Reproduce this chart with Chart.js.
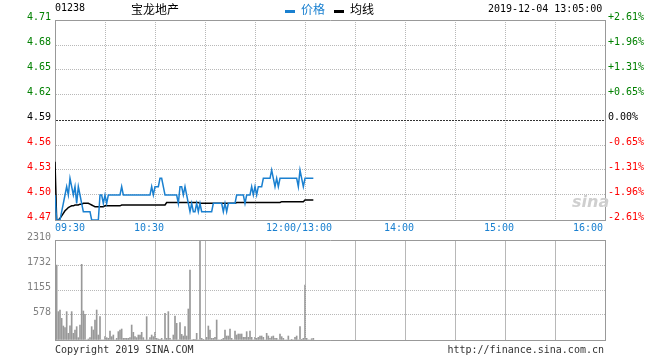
<!DOCTYPE html>
<html>
<head>
<meta charset="utf-8">
<script src="https://cdn.jsdelivr.net/npm/chart.js@4.4.1/dist/chart.umd.min.js"></script>
<style>
  body { margin: 0; background: #fff; }
  #wrap { position: relative; width: 660px; height: 360px; overflow: hidden; font-family: 'DejaVu Sans Mono', monospace; }
  canvas { position: absolute; left: 0; }
  .t { position: absolute; white-space: nowrap; line-height: 1; }
  .cjk { font-family: 'Noto Sans CJK SC', sans-serif; font-size: 12px; }
  .key { position: absolute; height: 3px; width: 10px; }
</style>
</head>
<body>
<div id="wrap">
  <canvas id="vol" width="660" height="130" style="top:230px"></canvas>
  <canvas id="price" width="660" height="235" style="top:0"></canvas>

  <div class="t" style="left:55px;top:3px;font-size:10px;color:#000">01238</div>
  <div class="t cjk" style="left:131px;top:3px;color:#000">宝龙地产</div>
  <div class="key" style="left:285px;top:10px;background:#1a80d0"></div>
  <div class="t cjk" style="left:301px;top:3px;color:#1a80d0">价格</div>
  <div class="key" style="left:334px;top:10px;background:#000"></div>
  <div class="t cjk" style="left:350px;top:3px;color:#000">均线</div>
  <div class="t" style="left:488px;top:4px;font-size:10px;color:#000">2019-12-04 13:05:00</div>

  <div class="t" style="left:572px;top:194px;font-size:16px;font-weight:bold;font-style:italic;color:#cfcfcf;font-family:'DejaVu Sans',sans-serif">sina</div>

  <div class="t" style="left:55px;top:345px;font-size:10px;color:#333">Copyright 2019 SINA.COM</div>
  <div class="t" style="right:56px;top:345px;font-size:10px;color:#333">http://finance.sina.com.cn</div>
</div>

<script>
// minute index from 09:30 (12:00 and 13:00 share index 150)
const price = [
  4.50, 4.47, 4.47, 4.47, 4.48, 4.49, 4.50, 4.51, 4.50, 4.52,
  4.51, 4.50, 4.51, 4.49, 4.51, 4.50, 4.49, 4.48, 4.48, 4.48,
  4.48, 4.48, 4.47, 4.47, 4.47, 4.47, 4.47, 4.50, 4.50, 4.49,
  4.50, 4.49, 4.50, 4.50, 4.50, 4.50, 4.50, 4.50, 4.50, 4.50,
  4.51, 4.50, 4.50, 4.50, 4.50, 4.50, 4.50, 4.50, 4.50, 4.50,
  4.50, 4.50, 4.50, 4.50, 4.50, 4.50, 4.50, 4.50, 4.51, 4.50,
  4.51, 4.51, 4.51, 4.52, 4.52, 4.51, 4.50, 4.50, 4.50, 4.50,
  4.50, 4.50, 4.50, 4.50, 4.49, 4.51, 4.51, 4.50, 4.51, 4.50,
  4.49, 4.48, 4.49, 4.48, 4.48, 4.49, 4.48, 4.49, 4.48, 4.48,
  4.48, 4.48, 4.48, 4.48, 4.48, 4.49, 4.49, 4.49, 4.49, 4.49,
  4.49, 4.48, 4.49, 4.48, 4.49, 4.49, 4.49, 4.49, 4.49, 4.50,
  4.50, 4.50, 4.50, 4.50, 4.49, 4.50, 4.50, 4.50, 4.51, 4.50,
  4.51, 4.50, 4.51, 4.51, 4.51, 4.52, 4.52, 4.52, 4.52, 4.52,
  4.53, 4.52, 4.51, 4.52, 4.51, 4.52, 4.52, 4.52, 4.52, 4.52,
  4.52, 4.52, 4.52, 4.52, 4.52, 4.52, 4.51, 4.53, 4.52, 4.51,
  4.52, 4.52, 4.52, 4.52, 4.52, 4.52
];

const avgPrice = [
  4.540, 4.470, 4.470, 4.472, 4.475, 4.478, 4.481, 4.483, 4.485, 4.486,
  4.487, 4.487, 4.488, 4.488, 4.488, 4.489, 4.489, 4.490, 4.490, 4.490,
  4.490, 4.489, 4.488, 4.487, 4.486, 4.486, 4.486, 4.486, 4.486, 4.486,
  4.487, 4.487, 4.487, 4.487, 4.487, 4.487, 4.487, 4.487, 4.487, 4.487,
  4.488, 4.488, 4.488, 4.488, 4.488, 4.488, 4.488, 4.488, 4.488, 4.488,
  4.488, 4.488, 4.488, 4.488, 4.488, 4.488, 4.488, 4.488, 4.488, 4.488,
  4.488, 4.488, 4.488, 4.488, 4.488, 4.488, 4.488, 4.491, 4.491, 4.491,
  4.491, 4.491, 4.491, 4.491, 4.491, 4.491, 4.491, 4.491, 4.491, 4.491,
  4.491, 4.491, 4.491, 4.491, 4.491, 4.491, 4.491, 4.490, 4.490, 4.490,
  4.490, 4.490, 4.490, 4.490, 4.490, 4.490, 4.490, 4.490, 4.490, 4.490,
  4.490, 4.490, 4.490, 4.490, 4.490, 4.490, 4.490, 4.490, 4.490, 4.491,
  4.491, 4.491, 4.491, 4.491, 4.491, 4.491, 4.491, 4.491, 4.491, 4.491,
  4.491, 4.491, 4.491, 4.491, 4.491, 4.491, 4.491, 4.491, 4.491, 4.491,
  4.491, 4.491, 4.491, 4.491, 4.491, 4.491, 4.492, 4.492, 4.492, 4.492,
  4.492, 4.492, 4.492, 4.492, 4.492, 4.492, 4.492, 4.492, 4.492, 4.492,
  4.494, 4.494, 4.494, 4.494, 4.494, 4.494
];

const volume = [
  0, 1730, 655, 693, 500, 323, 285, 655, 154, 330,
  655, 154, 231, 308, 54, 346, 1748, 670, 593, 0,
  23, 54, 308, 231, 462, 693, 115, 539, 0, 0,
  77, 54, 38, 208, 77, 115, 0, 38, 193, 231,
  254, 38, 38, 38, 38, 54, 346, 177, 77, 54,
  115, 115, 177, 54, 0, 539, 0, 54, 115, 77,
  177, 38, 23, 15, 38, 0, 616, 38, 655, 38,
  0, 115, 554, 385, 0, 400, 130, 92, 308, 92,
  716, 1617, 0, 15, 15, 154, 0, 2310, 38, 15,
  0, 62, 323, 231, 38, 38, 62, 462, 0, 0,
  15, 38, 231, 92, 92, 254, 38, 0, 208, 115,
  139, 139, 139, 62, 62, 193, 62, 208, 62, 0,
  62, 38, 62, 92, 92, 62, 0, 154, 92, 38,
  77, 92, 38, 38, 0, 139, 77, 38, 0, 0,
  92, 0, 15, 0, 62, 92, 0, 308, 15, 38,
  1270, 38, 0, 0, 30, 38
];

const prevClose = 4.59;
const priceTicks = [4.47, 4.50, 4.53, 4.56, 4.59, 4.62, 4.65, 4.68, 4.71];
const pctTicks = ['-2.61%', '-1.96%', '-1.31%', '-0.65%', '0.00%', '+0.65%', '+1.31%', '+1.96%', '+2.61%'];
const volTicks = [0, 578, 1155, 1732, 2310];
const gridMinutes = [0, 30, 60, 90, 120, 150, 180, 210, 240, 270, 300, 330];
const timeTickMinutes = [0, 60, 150, 210, 270, 330];
const timeTickLabels = ['09:30', '10:30', '12:00/13:00', '14:00', '15:00', '16:00'];

const minutes = price.map((_, i) => i);

const tickFont = { family: 'DejaVu Sans Mono', size: 10 };
const edgeColor = '#999999';
const dotColor = '#b8b8b8';

function priceColor(v) {
  if (Math.abs(v - prevClose) < 1e-6) return '#000000';
  return v > prevClose ? '#008000' : '#ff0000';
}

function isEdge(v) {
  return v === gridMinutes[0] || v === gridMinutes[gridMinutes.length - 1];
}

function xAxis(height) {
  return {
    type: 'linear',
    min: 0,
    max: 330,
    offset: false,
    afterBuildTicks: (s) => { s.ticks = gridMinutes.map(v => ({ value: v })); },
    afterFit: (s) => { s.height = height; },
    ticks: { display: false },
    grid: {
      offset: false,
      drawTicks: false,
      color: (c) => (c.tick && isEdge(c.tick.value)) ? edgeColor : dotColor
    },
    border: {
      color: edgeColor,
      dash: (c) => (c.tick && isEdge(c.tick.value)) ? [] : [1, 1]
    }
  };
}

function rightAxis(min, max, ticks, labels) {
  return {
    position: 'right',
    min: min,
    max: max,
    afterBuildTicks: (s) => { s.ticks = ticks.map(v => ({ value: v })); },
    afterFit: (s) => { s.width = 55; },
    ticks: {
      display: labels !== null,
      font: tickFont,
      padding: 3,
      labelOffset: -3,
      color: (c) => priceColor(c.tick.value),
      callback: (v, i) => (labels ? labels[i] : '')
    },
    grid: { display: false, drawTicks: false },
    border: { color: edgeColor }
  };
}

const timeLabels = {
  id: 'timeLabels',
  afterDraw(chart) {
    const { ctx, chartArea } = chart;
    const x = chart.scales.x;
    ctx.save();
    ctx.font = '10px "DejaVu Sans Mono"';
    ctx.fillStyle = '#1a80d0';
    ctx.textBaseline = 'middle';
    timeTickMinutes.forEach((m, i) => {
      const px = x.getPixelForValue(m);
      let dx = -6;
      ctx.textAlign = 'center';
      if (i === 0) { ctx.textAlign = 'left'; dx = 0; }
      if (i === timeTickMinutes.length - 1) { ctx.textAlign = 'right'; dx = -2; }
      ctx.fillText(timeTickLabels[i], px + dx, chartArea.bottom + 8);
    });
    ctx.restore();
  }
};

// vertical grid of the volume panel, drawn last from the x scale positions
const volVerticalGrid = {
  id: 'volVerticalGrid',
  afterDraw(chart) {
    const { ctx, chartArea } = chart;
    const x = chart.scales.x;
    ctx.save();
    ctx.strokeStyle = '#c4c4c4';
    ctx.lineWidth = 1;
    gridMinutes.forEach((m) => {
      if (isEdge(m)) return;
      const px = Math.floor(x.getPixelForValue(m)) + 0.5;
      for (let y = chartArea.top + 1; y < chartArea.bottom; y += 2) {
        ctx.fillStyle = '#b8b8b8';
        ctx.fillRect(px - 0.5, y, 1, 1);
      }
    });
    ctx.restore();
  }
};

new Chart(document.getElementById('price'), {
  type: 'line',
  data: {
    labels: minutes,
    datasets: [
      { label: '价格', data: price, borderColor: '#1a80d0', borderWidth: 1.5, pointRadius: 0, tension: 0 },
      { label: '均线', data: avgPrice, borderColor: '#000000', borderWidth: 1.5, pointRadius: 0, tension: 0 }
    ]
  },
  options: {
    responsive: false,
    animation: false,
    layout: { padding: { top: 20, left: 0, right: 0, bottom: 0 } },
    plugins: { legend: { display: false }, tooltip: { enabled: false } },
    scales: {
      x: xAxis(15),
      y: {
        position: 'left',
        min: 4.47,
        max: 4.71,
        afterBuildTicks: (s) => { s.ticks = priceTicks.map(v => ({ value: v })); },
        afterFit: (s) => { s.width = 55; },
        ticks: {
          font: tickFont,
          padding: 4,
          labelOffset: -3,
          color: (c) => priceColor(c.tick.value),
          callback: (v) => v.toFixed(2)
        },
        grid: {
          drawTicks: false,
          color: (c) => {
            const v = c.tick.value;
            if (Math.abs(v - 4.71) < 1e-6 || Math.abs(v - 4.47) < 1e-6) return edgeColor;
            if (Math.abs(v - prevClose) < 1e-6) return '#333333';
            return dotColor;
          }
        },
        border: {
          color: edgeColor,
          dash: (c) => {
            const v = c.tick.value;
            if (Math.abs(v - 4.71) < 1e-6 || Math.abs(v - 4.47) < 1e-6) return [];
            if (Math.abs(v - prevClose) < 1e-6) return [2, 1];
            return [1, 1];
          }
        }
      },
      y2: rightAxis(4.47, 4.71, priceTicks, pctTicks)
    }
  },
  plugins: [timeLabels]
});

new Chart(document.getElementById('vol'), {
  type: 'line',
  data: {
    labels: minutes,
    datasets: [
      { type: 'bar', label: '成交量', data: volume, backgroundColor: '#999999', barThickness: 1 }
    ]
  },
  options: {
    responsive: false,
    animation: false,
    layout: { padding: { top: 10, left: 0, right: 0, bottom: 0 } },
    plugins: { legend: { display: false }, tooltip: { enabled: false } },
    scales: {
      x: xAxis(20),
      y: {
        position: 'left',
        min: 0,
        max: 2310,
        afterBuildTicks: (s) => { s.ticks = volTicks.map(v => ({ value: v })); },
        afterFit: (s) => { s.width = 55; },
        ticks: {
          font: tickFont,
          padding: 4,
          labelOffset: -3,
          color: '#808080',
          callback: (v) => (v === 0 ? '' : String(v))
        },
        grid: {
          drawTicks: false,
          color: (c) => (c.tick.value === 2310 || c.tick.value === 0) ? edgeColor : dotColor
        },
        border: {
          color: edgeColor,
          dash: (c) => (c.tick.value === 2310 || c.tick.value === 0) ? [] : [1, 1]
        }
      },
      y2: rightAxis(0, 2310, volTicks, null)
    }
  },
  plugins: [volVerticalGrid]
});
</script>
</body>
</html>
